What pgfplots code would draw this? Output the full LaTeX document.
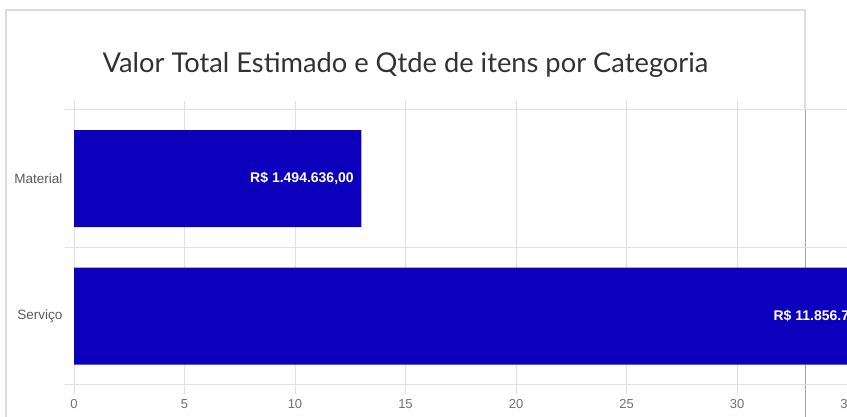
\documentclass[border=0pt]{standalone}
\usepackage{fontspec}
\setmainfont{Liberation Sans}
\newfontfamily\titlefont{Lato}
\usepackage{pgfplots}
\pgfplotsset{compat=1.18}

\definecolor{barblue}{RGB}{12,0,188}
\definecolor{gridgray}{RGB}{224,224,224}
\definecolor{bordergray}{RGB}{220,220,220}
\definecolor{ticktext}{RGB}{112,112,112}
\definecolor{catText}{RGB}{90,90,90}
\definecolor{titletext}{RGB}{50,50,50}

\begin{document}
\begin{tikzpicture}
\useasboundingbox (0pt,0pt) rectangle (847pt,417pt);
\clip (0pt,0pt) rectangle (847pt,417pt);
% container border
\draw[bordergray, line width=2pt] (6pt,0pt) -- (6pt,407pt) -- (805pt,407pt) -- (805pt,307pt);
\draw[black!35, line width=1pt] (805pt,307pt) -- (805pt,0pt);
\node[anchor=base, text=titletext, font=\titlefont\fontsize{27.3}{32}\selectfont] at (405.5pt,344pt) {Valor Total Estimado e Qtde de itens por Categoria};
\begin{axis}[
  at={(74pt,32pt)}, anchor=south west,
  scale only axis, width=839.8pt, height=275pt,
  xbar, bar width=97pt,
  xmin=0, xmax=38, ymin=-0.5, ymax=1.5, y dir=reverse,
  ytick={-0.5,0.5,1.5}, yticklabels={},
  extra y ticks={0,1}, extra y tick labels={Material, Serviço},
  extra y tick style={grid=none, major tick length=0pt},
  xtick={0,5,...,35},
  xmajorgrids, ymajorgrids,
  grid style={gridgray, line width=1pt},
  axis line style={draw=none},
  tick align=outside,
  major tick length=9pt,
  tick style={gridgray, line width=1pt},
  /pgf/number format/assume math mode=true,
  xticklabel style={text=ticktext, font=\fontsize{13}{15}\selectfont, yshift=-2pt},
  yticklabel style={text=catText, font=\fontsize{13.5}{15}\selectfont, xshift=-8pt},
  nodes near coords,
  point meta=explicit symbolic,
  nodes near coords style={anchor=east, text=white, font=\bfseries\fontsize{14}{16}\selectfont, xshift=-4pt},
]
\addplot[fill=barblue, draw=none] coordinates {
  (13,0) [{R\$ 1.494.636,00}]
  (37,1) [{R\$ 11.856.789,00}]
};
\end{axis}
\end{tikzpicture}
\end{document}
